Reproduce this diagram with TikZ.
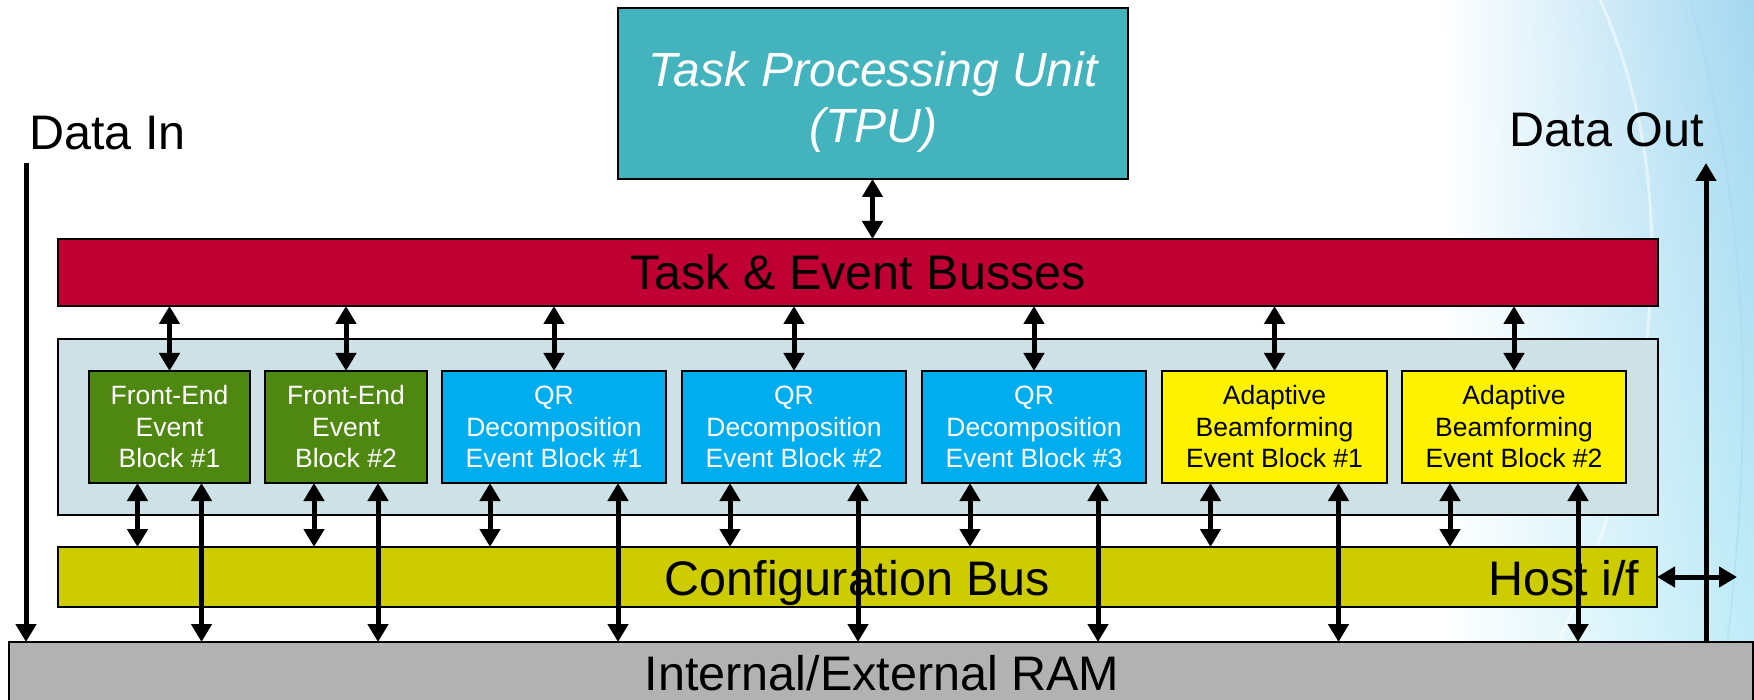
\documentclass[tikz,border=0pt]{standalone}
\usepackage{fontspec}
\setmainfont{Liberation Sans}
\usetikzlibrary{arrows.meta,calc,shadings}

\definecolor{tputeal}{HTML}{43B3BE}
\definecolor{buscrimson}{HTML}{C00033}
\definecolor{panelblue}{HTML}{CDE1E6}
\definecolor{fegreen}{HTML}{4F8811}
\definecolor{qrblue}{HTML}{00AEEF}
\definecolor{abyellow}{HTML}{FFF200}
\definecolor{cfgolive}{HTML}{CCCC00}
\definecolor{ramgray}{HTML}{B2B2B2}
\definecolor{skyA}{HTML}{A4D7F0}
\definecolor{skyB}{HTML}{C2EEF8}

\tikzset{
  box/.style={draw=black, line width=2pt, rectangle, inner sep=0pt, outer sep=0pt},
  biglabel/.style={font=\fontsize{48.5}{57}\selectfont, inner sep=0pt, outer sep=0pt},
  evblock/.style={box, minimum height=112pt, align=center,
    font=\fontsize{26.5}{31.5}\selectfont},
  headtip/.tip={Triangle[width=20pt,length=18pt]},
  biarrow/.style={line width=5pt, {headtip}-{headtip}},
  downarrow/.style={line width=5pt, -{headtip}},
}

\begin{document}
\begin{tikzpicture}[x=1pt, y=-1pt]
\useasboundingbox (0,0) rectangle (1754,700);
\clip (0,0) rectangle (1754,700);

% backdrop with the pale blue sweep on the right
\fill[white] (0,0) rectangle (1754,700);
\shade[upper left=white, lower left=white, upper right=skyA, lower right=skyB]
  (1440,0) rectangle (1754,700);
\draw[white, line width=3pt, opacity=.5]
  (1600,0) .. controls (1690,200) and (1660,450) .. (1530,700);
\draw[skyA, line width=2pt, opacity=.4]
  (1690,0) .. controls (1760,250) and (1750,480) .. (1720,700);

% main units
\node[box, fill=tputeal, minimum width=510pt, minimum height=171pt] (tpu) at (872.5,93.5) {};
\node[font=\fontsize{48}{56}\selectfont\itshape, text=white, align=center, inner sep=0pt]
  (tputext) at (873,102) {Task Processing Unit\\(TPU)};

\node[box, fill=buscrimson, minimum width=1600pt, minimum height=67pt] (tbus) at (858,272.5) {};
\node[biglabel, anchor=base] (tbustext) at (858,290) {Task \& Event Busses};

\node[box, fill=panelblue, minimum width=1600pt, minimum height=176pt] (panel) at (858,427) {};

\node[box, fill=cfgolive, minimum width=1599pt, minimum height=60pt] (cfg) at (857.5,577) {};
\node[biglabel, anchor=base] (cfgtext) at (857.5,595) {Configuration Bus};
\node[biglabel, anchor=base east] (hosttext) at (1639,595) {Host i/f};

\node[box, fill=ramgray, minimum width=1744pt, minimum height=118pt] (ram) at (881,701) {};
\node[biglabel, anchor=base] (ramtext) at (882,690) {Internal/External RAM};

% event blocks
\node[evblock, fill=fegreen, text=white, minimum width=161pt] (fe1) at (169.5,427) {Front-End\\Event\\Block \#1};
\node[evblock, fill=fegreen, text=white, minimum width=162pt] (fe2) at (346,427) {Front-End\\Event\\Block \#2};
\node[evblock, fill=qrblue, text=white, minimum width=224pt] (qr1) at (554,427) {QR\\Decomposition\\Event Block \#1};
\node[evblock, fill=qrblue, text=white, minimum width=224pt] (qr2) at (794,427) {QR\\Decomposition\\Event Block \#2};
\node[evblock, fill=qrblue, text=white, minimum width=224pt] (qr3) at (1034,427) {QR\\Decomposition\\Event Block \#3};
\node[evblock, fill=abyellow, text=black, minimum width=225pt] (ab1) at (1274.5,427) {Adaptive\\Beamforming\\Event Block \#1};
\node[evblock, fill=abyellow, text=black, minimum width=224pt] (ab2) at (1514,427) {Adaptive\\Beamforming\\Event Block \#2};

% external data labels
\node[biglabel, anchor=base west] (dinlabel) at (29.5,150) {Data In};
\node[biglabel, anchor=base east] (doutlabel) at (1704,147) {Data Out};

% connectors
\draw[biarrow] (tpu.south) -- (tpu.south |- tbus.north);

\foreach \blk/\off in {fe1/32, fe2/32, qr1/64, qr2/64, qr3/64, ab1/64, ab2/64} {
  \draw[biarrow] (tbus.south -| \blk.north) -- (\blk.north);
  \draw[biarrow] ([xshift=-\off pt]\blk.south) -- ([xshift=-\off pt]\blk.south |- cfg.north);
  \draw[biarrow] ([xshift=\off pt]\blk.south) -- ([xshift=\off pt]\blk.south |- ram.north);
}

\coordinate (dinstart) at (26,163);
\coordinate (douttip) at (1706,163);
\coordinate (hostend) at (1737,577);
\draw[downarrow] (dinstart) -- (dinstart |- ram.north);
\draw[downarrow] (douttip |- ram.north) -- (douttip);
\draw[biarrow] (cfg.east) -- (hostend);
\end{tikzpicture}
\end{document}
